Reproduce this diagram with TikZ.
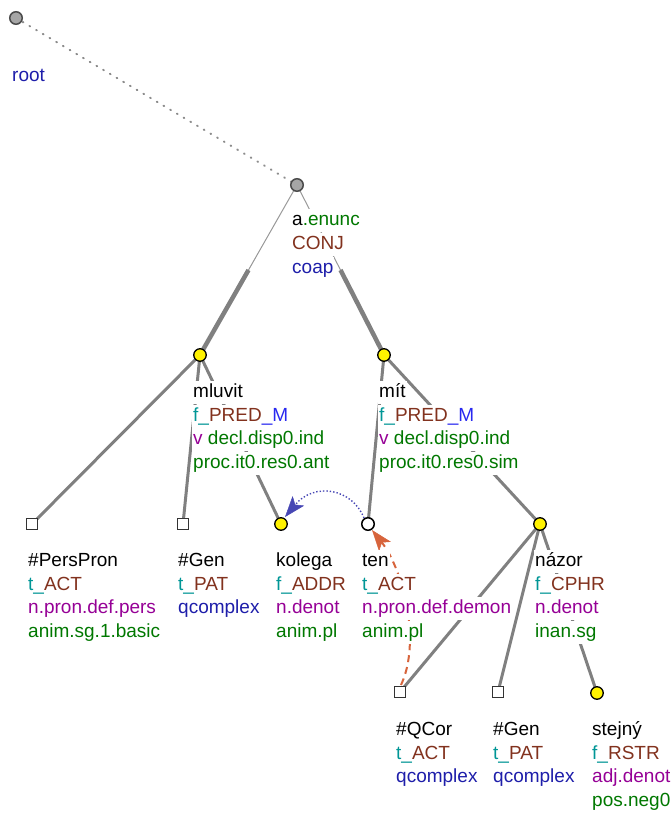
\documentclass[tikz,border=0pt]{standalone}
\usepackage{fontspec}
\setmainfont{Liberation Sans}
\usetikzlibrary{arrows.meta,calc}
\definecolor{cteal}{RGB}{0,150,150}
\definecolor{cbrown}{RGB}{130,50,30}
\definecolor{cblue}{RGB}{30,30,170}
\definecolor{cbright}{RGB}{40,40,240}
\definecolor{cpurple}{RGB}{150,0,150}
\definecolor{cgreen}{RGB}{0,120,0}
\definecolor{cedge}{RGB}{128,128,128}
\definecolor{corange}{RGB}{215,100,60}
\definecolor{carrowblue}{RGB}{70,70,180}
\newcommand{\fnc}[2]{{\color{cteal}#1\_}{\color{cbrown}#2}}
\tikzset{
  ynode/.style={circle, draw=black, fill=yellow, minimum size=12.5pt, inner sep=0pt, line width=1.3pt},
  gnode/.style={circle, draw=black!70, fill=black!35, minimum size=12.5pt, inner sep=0pt, line width=1.5pt},
  wnode/.style={circle, draw=black, fill=white, minimum size=12.5pt, inner sep=0pt, line width=1.5pt},
  snode/.style={rectangle, draw=black!80, fill=white, minimum size=11.5pt, inner sep=0pt, line width=1.3pt},
  tedge/.style={draw=cedge, line width=3pt},
  coordthin/.style={draw=black!40, line width=1pt},
  coordthick/.style={draw=black!50, line width=4.5pt},
  lab/.style={anchor=base west, inner xsep=1pt, inner ysep=2.3pt, fill=white, text height=14pt, text depth=5pt, font=\fontsize{19}{24}\selectfont},
  bigtip/.style={-{Stealth[length=21pt,width=15pt,inset=5pt,line width=0.5pt,sep=0pt]}},
}
\begin{document}
\begin{tikzpicture}[x=1pt,y=-1pt]
\useasboundingbox (0,0) rectangle (671,814);
% node positions
\coordinate (root) at (16,18);
\coordinate (conj) at (297,185);
\coordinate (mluvit) at (200,355);
\coordinate (mit) at (384,355);
\coordinate (perspron) at (32,524);
\coordinate (gen1) at (183,524);
\coordinate (kolega) at (281,524);
\coordinate (ten) at (368,524);
\coordinate (nazor) at (540,524);
\coordinate (qcor) at (400,692);
\coordinate (gen2) at (498,692);
\coordinate (stejny) at (597,693);
% edges
\draw[draw=black!45, line width=2pt, line cap=round, dash pattern=on 0.8pt off 7pt] (root) -- (conj);
\coordinate (mid1) at ($(conj)!0.5!(mluvit)$);
\coordinate (mid2) at ($(conj)!0.5!(mit)$);
\draw[coordthin] (conj) -- (mid1);
\draw[coordthick] (mid1) -- (mluvit);
\draw[coordthin] (conj) -- (mid2);
\draw[coordthick] (mid2) -- (mit);
\draw[tedge] (mluvit) -- (perspron);
\draw[tedge] (mluvit) -- (gen1);
\draw[tedge] (mluvit) -- (kolega);
\draw[tedge] (mit) -- (ten);
\draw[tedge] (mit) -- (nazor);
\draw[tedge] (nazor) -- (qcor);
\draw[tedge] (nazor) -- (gen2);
\draw[tedge] (nazor) -- (stejny);
% coreference arrows
\draw[draw=carrowblue, line width=1.4pt, dotted, bigtip]
  ($(ten)+(-4,-6)$) .. controls (352,488) and (314,482) .. ($(kolega)+(4,-7)$);
\draw[draw=corange, line width=2pt, dash pattern=on 7pt off 5pt, bigtip]
  ($(qcor)+(1,-7)$) .. controls (422,640) and (402,568) .. ($(ten)+(4,6)$);
% labels
\node[lab] (l-root) at (11,81) {\color{cblue}root};
\node[lab] (l-conj1) at (291,225) {a{\color{cgreen}.enunc}};
\node[lab] (l-conj2) at (291,249) {\color{cbrown}CONJ};
\node[lab] (l-conj3) at (291,273) {\color{cblue}coap};
\node[lab] (l-ml1) at (192,397) {mluvit};
\node[lab] (l-ml2) at (192,421) {\fnc{f}{PRED}{\color{cbright}\_M}};
\node[lab] (l-ml3) at (192,444) {{\color{cpurple}v} {\color{cgreen}decl.disp0.ind}};
\node[lab] (l-ml4) at (192,468) {\color{cgreen}proc.it0.res0.ant};
\node[lab] (l-mi1) at (378,397) {mít};
\node[lab] (l-mi2) at (378,421) {\fnc{f}{PRED}{\color{cbright}\_M}};
\node[lab] (l-mi3) at (378,444) {{\color{cpurple}v} {\color{cgreen}decl.disp0.ind}};
\node[lab] (l-mi4) at (378,468) {\color{cgreen}proc.it0.res0.sim};
\node[lab] (l-pp1) at (27,566) {\#PersPron};
\node[lab] (l-pp2) at (27,590) {\fnc{t}{ACT}};
\node[lab] (l-pp3) at (27,613) {\color{cpurple}n.pron.def.pers};
\node[lab] (l-pp4) at (27,637) {\color{cgreen}anim.sg.1.basic};
\node[lab] (l-g11) at (177,566) {\#Gen};
\node[lab] (l-g12) at (177,590) {\fnc{t}{PAT}};
\node[lab] (l-g13) at (177,613) {\color{cblue}qcomplex};
\node[lab] (l-ko1) at (275,566) {kolega};
\node[lab] (l-ko2) at (275,590) {\fnc{f}{ADDR}};
\node[lab] (l-ko3) at (275,613) {\color{cpurple}n.denot};
\node[lab] (l-ko4) at (275,637) {\color{cgreen}anim.pl};
\node[lab] (l-te1) at (361,566) {ten};
\node[lab] (l-te2) at (361,590) {\fnc{t}{ACT}};
\node[lab] (l-te3) at (361,613) {\color{cpurple}n.pron.def.demon};
\node[lab] (l-te4) at (361,637) {\color{cgreen}anim.pl};
\node[lab] (l-na1) at (534,566) {názor};
\node[lab] (l-na2) at (534,590) {\fnc{f}{CPHR}};
\node[lab] (l-na3) at (534,613) {\color{cpurple}n.denot};
\node[lab] (l-na4) at (534,637) {\color{cgreen}inan.sg};
\node[lab] (l-qc1) at (395,735) {\#QCor};
\node[lab] (l-qc2) at (395,759) {\fnc{t}{ACT}};
\node[lab] (l-qc3) at (395,782) {\color{cblue}qcomplex};
\node[lab] (l-g21) at (492,735) {\#Gen};
\node[lab] (l-g22) at (492,759) {\fnc{t}{PAT}};
\node[lab] (l-g23) at (492,782) {\color{cblue}qcomplex};
\node[lab] (l-st1) at (591,735) {stejný};
\node[lab] (l-st2) at (591,759) {\fnc{f}{RSTR}};
\node[lab] (l-st3) at (591,782) {\color{cpurple}adj.denot};
\node[lab] (l-st4) at (591,806) {\color{cgreen}pos.neg0};
% nodes
\node[gnode] (n-root) at (root) {};
\node[gnode] (n-conj) at (conj) {};
\node[ynode] (n-mluvit) at (mluvit) {};
\node[ynode] (n-mit) at (mit) {};
\node[snode] (n-perspron) at (perspron) {};
\node[snode] (n-gen1) at (gen1) {};
\node[ynode] (n-kolega) at (kolega) {};
\node[wnode] (n-ten) at (ten) {};
\node[ynode] (n-nazor) at (nazor) {};
\node[snode] (n-qcor) at (qcor) {};
\node[snode] (n-gen2) at (gen2) {};
\node[ynode] (n-stejny) at (stejny) {};
\end{tikzpicture}
\end{document}
